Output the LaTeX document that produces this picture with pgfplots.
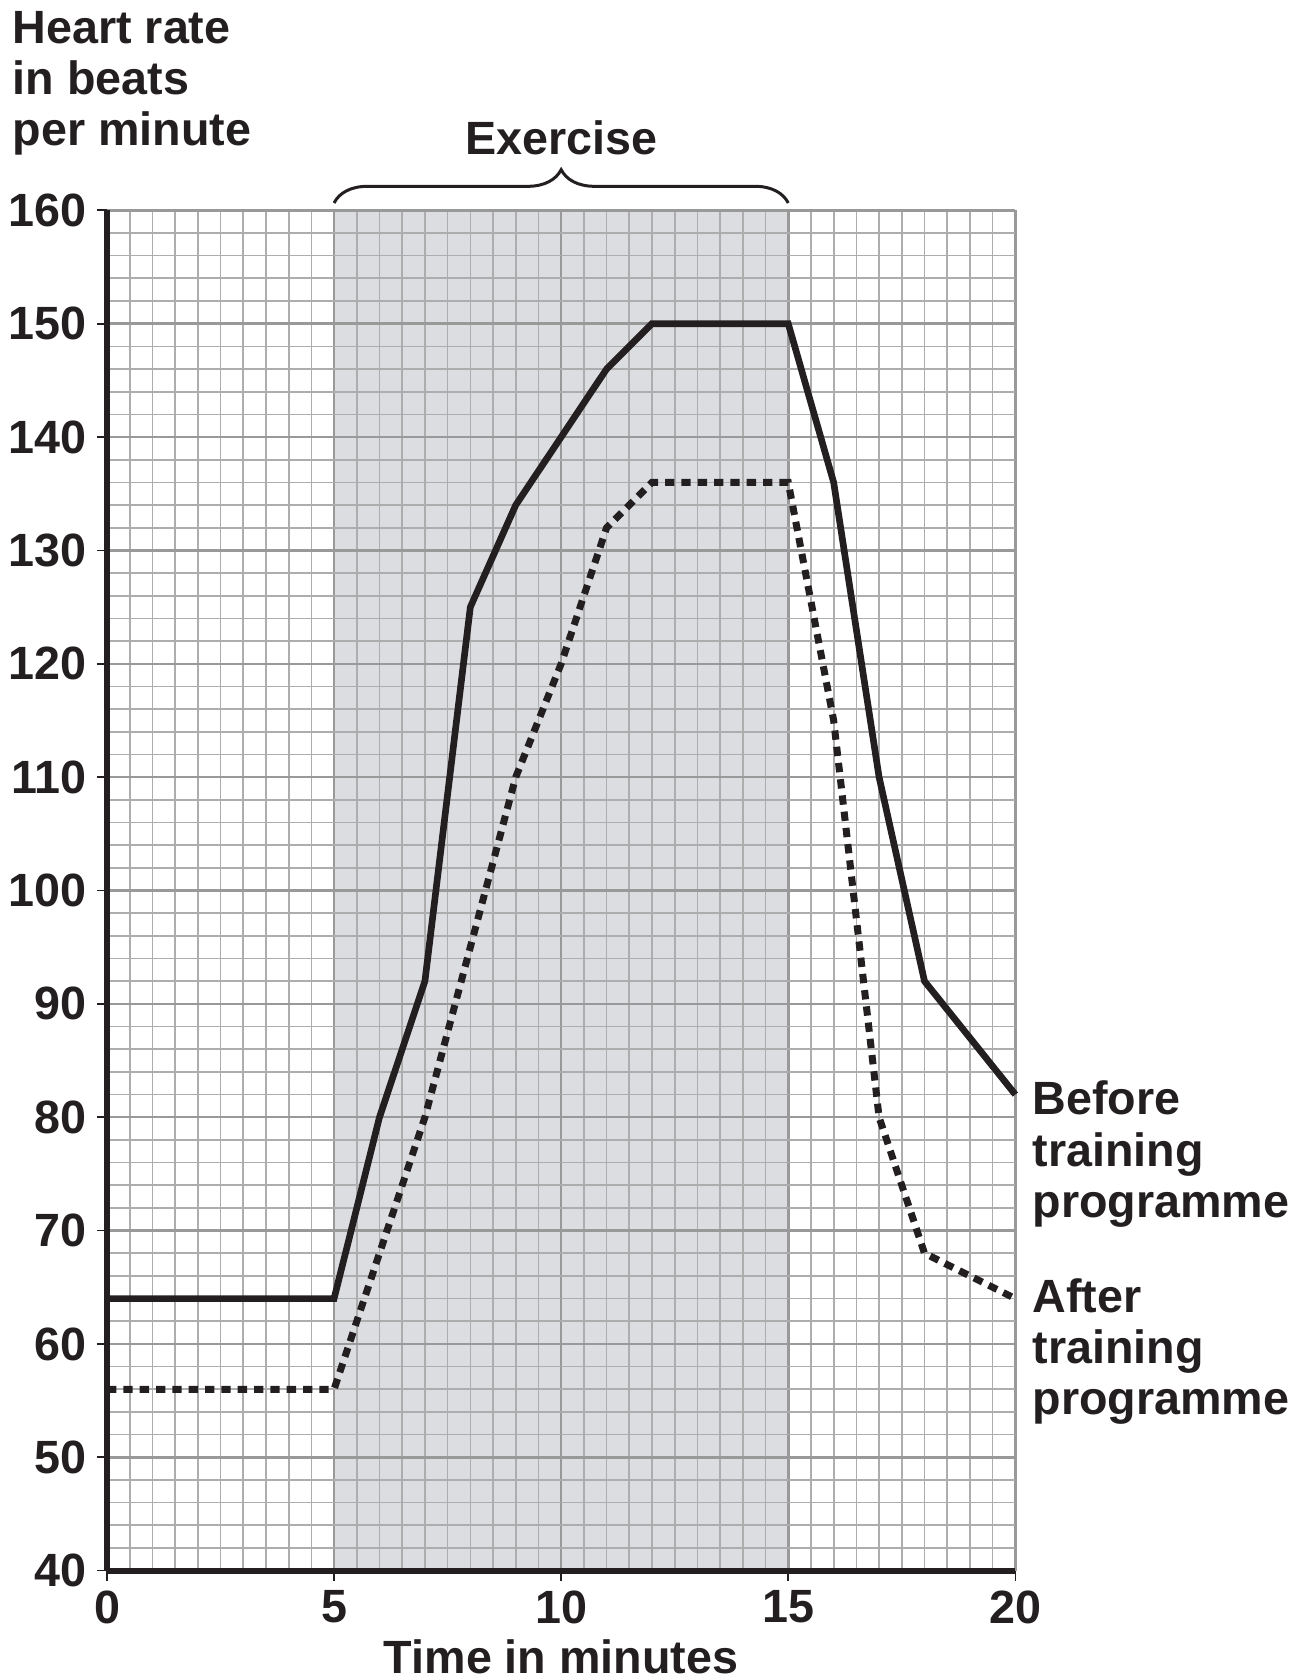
\documentclass[border=0pt]{standalone}
\usepackage{fontspec}
\setmainfont{Liberation Sans}
\usepackage{pgfplots}
\pgfplotsset{compat=1.18}
\usetikzlibrary{decorations.pathreplacing}
\definecolor{shade}{HTML}{DCDDE0}
\definecolor{minorg}{HTML}{ADADAD}
\definecolor{majorg}{HTML}{999999}
\definecolor{ink}{HTML}{231F20}
\newcommand{\lbl}{\fontsize{14}{15.2}\selectfont\bfseries}
\begin{document}
\begin{tikzpicture}
\begin{axis}[
  at={(0pt,0pt)}, anchor=south west,
  scale only axis, width=272.5pt, height=408.1pt,
  set layers=standard,
  clip=false,
  xmin=0, xmax=20, ymin=40, ymax=160,
  xtick={0,5,10,15,20}, ytick={40,50,...,160},
  minor x tick num=9, minor y tick num=4,
  grid=both,
  major grid style={draw=majorg, line width=0.75pt},
  minor grid style={draw=minorg, line width=0.5pt},
  axis x line=bottom, axis y line=left,
  axis line style={-},
  x axis line style={line width=1.8pt, draw=ink},
  y axis line style={line width=1.6pt, draw=ink},
  tick align=outside, major tick length=3pt, minor tick length=0pt,
  major tick style={draw=ink, line width=0.5pt},
  /pgf/number format/assume math mode=true,
  ticklabel style={font=\lbl, text=ink},
  xticklabel style={anchor=north, inner sep=0pt, yshift=-2.8pt},
  yticklabel style={anchor=east, inner sep=0pt, xshift=-3pt},
]
\addplot[fill=shade, draw=none, on layer=axis background] coordinates {(5,40) (5,160) (15,160) (15,40)} \closedcycle;
% Before training programme
\addplot[draw=ink, line width=2pt, line join=miter, mark=none] coordinates {
 (0,64) (5,64) (6,80) (7,92) (8,125) (9,134) (10,140) (11,146) (12,150) (15,150) (16,136) (17,110) (18,92) (20,82)};
% After training programme
\addplot[draw=ink, line width=2.1pt, dash pattern=on 2.8pt off 2.1pt, mark=none] coordinates {
 (0,56) (5,56) (6,68) (7,80) (8,95) (9,110) (10,120) (11,132) (12,136) (15,136) (16,115) (17,80) (18,68) (20,64)};
\draw[draw=ink, line width=0.9pt, decorate, decoration={brace, amplitude=10pt}]
  ([yshift=2.2pt]axis cs:5,160) -- ([yshift=2.2pt]axis cs:15,160);
\end{axis}
\begin{scope}[every node/.style={inner sep=0pt, font=\lbl, text=ink}]
\node[anchor=base west] at (-28.5pt,458.0pt) {Heart rate};
\node[anchor=base west] at (-28.5pt,442.9pt) {in beats};
\node[anchor=base west] at (-28.5pt,427.6pt) {per minute};
\node[anchor=base] at (136.25pt,424.7pt) {Exercise};
\node[anchor=base west] at (277.5pt,136.7pt) {Before};
\node[anchor=base west] at (277.5pt,121.3pt) {training};
\node[anchor=base west] at (277.5pt,105.9pt) {programme};
\node[anchor=base west] at (277.5pt,77.3pt) {After};
\node[anchor=base west] at (277.5pt,62.1pt) {training};
\node[anchor=base west] at (277.5pt,46.9pt) {programme};
\node[anchor=base] at (136.25pt,-30.8pt) {Time in minutes};
\end{scope}
\pgfresetboundingbox
\path[use as bounding box] (-32.1pt,-31.6pt) rectangle (360.3pt,471.2pt);
\end{tikzpicture}
\end{document}
